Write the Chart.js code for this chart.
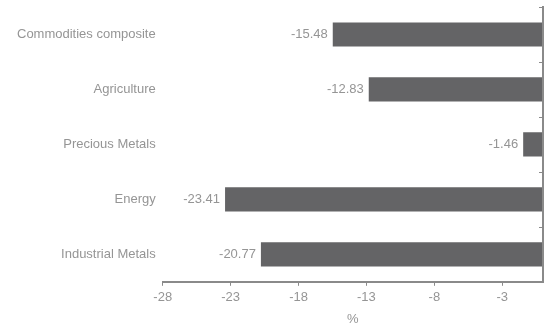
<!DOCTYPE html>
<html>
<head>
<meta charset="utf-8">
<script src="https://cdn.jsdelivr.net/npm/chart.js@4/dist/chart.umd.min.js"></script>
<style>
  html, body { margin: 0; padding: 0; background: #ffffff; }
  #wrap { width: 547px; height: 327px; position: relative; }
</style>
</head>
<body>
<div id="wrap"><canvas id="c" width="547" height="327"></canvas></div>
<script>
const categories = ["Commodities composite", "Agriculture", "Precious Metals", "Energy", "Industrial Metals"];
const changes = [-15.48, -12.83, -1.46, -23.41, -20.77];
const xTickValues = [-28, -23, -18, -13, -8, -3];
const xTitle = "%";

const TEXT = "#959595";
const AXIS = "#8a8a8a";
const BAR = "#646466";
const FONT = "'Liberation Sans', Arial, sans-serif";

const valueLabels = {
  id: "valueLabels",
  afterDatasetsDraw(chart) {
    const ctx = chart.ctx;
    const meta = chart.getDatasetMeta(0);
    ctx.save();
    ctx.font = "13px " + FONT;
    ctx.fillStyle = TEXT;
    ctx.textAlign = "right";
    ctx.textBaseline = "middle";
    meta.data.forEach((bar, i) => {
      ctx.fillText(changes[i].toFixed(2), bar.x - 5, bar.y);
    });
    ctx.restore();
  }
};

const rightAxis = {
  id: "rightAxis",
  afterDraw(chart) {
    const ctx = chart.ctx;
    const area = chart.chartArea;
    const y = chart.scales.y;
    const n = categories.length;
    ctx.save();
    ctx.strokeStyle = AXIS;
    ctx.lineWidth = 2;
    ctx.beginPath();
    ctx.moveTo(area.right, area.top - 1);
    ctx.lineTo(area.right, area.bottom + 1);
    ctx.stroke();
    ctx.lineWidth = 1;
    const bounds = [area.top];
    for (let i = 0; i < n - 1; i++) {
      bounds.push((y.getPixelForValue(i) + y.getPixelForValue(i + 1)) / 2);
    }
    ctx.beginPath();
    bounds.forEach(b => {
      const yy = Math.round(b) + 0.5;
      ctx.moveTo(area.right - 4, yy);
      ctx.lineTo(area.right, yy);
    });
    ctx.stroke();
    ctx.restore();
  }
};

new Chart(document.getElementById("c"), {
  type: "bar",
  data: {
    labels: categories,
    datasets: [{
      data: changes,
      backgroundColor: BAR,
      borderWidth: 0,
      barPercentage: 0.88,
      categoryPercentage: 0.5
    }]
  },
  options: {
    indexAxis: "y",
    responsive: false,
    animation: false,
    devicePixelRatio: 1,
    layout: { padding: { top: 7, right: 4, left: 10, bottom: 0 } },
    plugins: {
      legend: { display: false },
      tooltip: { enabled: false }
    },
    scales: {
      x: {
        type: "linear",
        min: -28,
        max: 0,
        afterBuildTicks(scale) {
          scale.ticks = xTickValues.map(v => ({ value: v }));
        },
        border: { display: true, color: AXIS, width: 2 },
        grid: { display: true, drawOnChartArea: false, drawTicks: true, tickLength: 4, color: AXIS, lineWidth: 1 },
        ticks: { color: TEXT, font: { family: FONT, size: 13 }, padding: 4, maxRotation: 0 },
        title: { display: true, text: xTitle, color: TEXT, font: { family: FONT, size: 13 }, padding: { top: 2, bottom: 0 } }
      },
      y: {
        type: "category",
        position: "left",
        afterFit(scale) {
          scale.paddingTop = 0;
          scale.paddingBottom = 0;
        },
        border: { display: false },
        grid: { display: false, drawTicks: false },
        ticks: { color: TEXT, font: { family: FONT, size: 13 }, padding: 7 }
      }
    }
  },
  plugins: [valueLabels, rightAxis]
});
</script>
</body>
</html>
